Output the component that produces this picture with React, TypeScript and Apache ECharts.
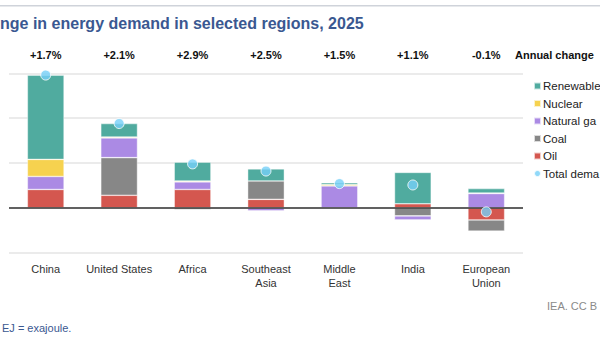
import React, { useEffect, useRef } from "react";
import * as echarts from "echarts";

const categories = ["China", "United States", "Africa", "Southeast\nAsia", "Middle\nEast", "India", "European\nUnion"];
const annualChange = ["+1.7%", "+2.1%", "+2.9%", "+2.5%", "+1.5%", "+1.1%", "-0.1%"];
const oil = [0.41, 0.28, 0.41, 0.19, 0, 0.09, -0.27];
const coal = [0, 0.84, -0.04, 0.41, 0, -0.18, -0.25];
const naturalGas = [0.29, 0.44, 0.17, -0.07, 0.49, -0.09, 0.32];
const nuclear = [0.38, 0.02, 0.02, 0, 0.03, -0.01, 0.01];
const renewables = [1.88, 0.3, 0.42, 0.27, 0.04, 0.7, 0.1];
const totalDemand = [2.96, 1.88, 0.98, 0.82, 0.54, 0.51, -0.09];
// legend texts as visible in the (cropped) reference
const legendShown: Record<string, string> = {
  Renewables: "Renewable",
  Nuclear: "Nuclear",
  "Natural gas": "Natural ga",
  Coal: "Coal",
  Oil: "Oil",
  "Total demand": "Total dema",
};

const FONT = "'Liberation Sans', Arial, sans-serif";

export default function App() {
  const ref = useRef<HTMLDivElement>(null);
  useEffect(() => {
    if (!ref.current) return;
    const chart = echarts.init(ref.current, undefined, { renderer: "svg" });
    const barSeries = (name: string, data: number[], color: string) => ({
      name,
      type: "bar",
      stack: "total",
      data,
      barWidth: "50%",
      itemStyle: { color, borderColor: "rgba(255,255,255,0.7)", borderWidth: 0.6 },
    });
    chart.setOption({
      animation: false,
      textStyle: { fontFamily: FONT },
      grid: { left: 9, right: 77, top: 73.3, bottom: 92.3, containLabel: false },
      legend: {
        orient: "vertical",
        left: 528,
        top: 75,
        itemWidth: 7,
        itemHeight: 7,
        itemGap: 5.5,
        icon: "rect",
        formatter: (n: string) => legendShown[n] ?? n,
        textStyle: { fontSize: 11.5, color: "#222", fontFamily: FONT, padding: [0, 0, 0, -3] },
        data: [
          { name: "Renewables", icon: "rect" },
          { name: "Nuclear", icon: "rect" },
          { name: "Natural gas", icon: "rect" },
          { name: "Coal", icon: "rect" },
          { name: "Oil", icon: "rect" },
          { name: "Total demand", icon: "circle" },
        ],
      },
      xAxis: [
        {
          type: "category",
          data: categories,
          axisLine: { show: false },
          axisTick: { show: false },
          axisLabel: { interval: 0, color: "#333", fontSize: 11, margin: 9, lineHeight: 14, fontFamily: FONT },
        },
        {
          type: "category",
          position: "top",
          data: annualChange,
          axisLine: { show: false },
          axisTick: { show: false },
          axisLabel: { interval: 0, color: "#111", fontSize: 11, fontWeight: "bold", margin: 13, fontFamily: FONT },
        },
      ],
      yAxis: {
        type: "value",
        min: -1,
        max: 3,
        interval: 1,
        axisLabel: { show: false },
        axisLine: { show: false },
        axisTick: { show: false },
        splitLine: { lineStyle: { color: "#e4e4e4", width: 1.5 } },
      },
      series: [
        {
          ...barSeries("Oil", oil, "#d4574f"),
          markLine: {
            silent: true,
            symbol: "none",
            label: { show: false },
            lineStyle: { color: "#333", width: 1.5, type: "solid" },
            data: [{ yAxis: 0 }],
          },
        },
        barSeries("Coal", coal, "#878787"),
        barSeries("Natural gas", naturalGas, "#ab8ae4"),
        barSeries("Nuclear", nuclear, "#f6d24f"),
        barSeries("Renewables", renewables, "#50ab9f"),
        {
          name: "Total demand",
          type: "scatter",
          data: totalDemand,
          symbol: "circle",
          symbolSize: 10,
          z: 10,
          itemStyle: { color: "#76cff7", borderColor: "#ffffff", borderWidth: 1 },
        },
      ],
      graphic: [
        { type: "rect", shape: { x: 0, y: 5, width: 600, height: 1.5 }, style: { fill: "#cfd3da" } },
        {
          type: "text",
          x: 0,
          y: 15,
          style: { text: "nge in energy demand in selected regions, 2025", fontSize: 16, fontWeight: "bold", fill: "#3a5891", fontFamily: FONT },
        },
        {
          type: "text",
          x: 515,
          y: 49,
          style: { text: "Annual change", fontSize: 11, fontWeight: "bold", fill: "#111", fontFamily: FONT },
        },
        {
          type: "text",
          x: 547,
          y: 300,
          style: { text: "IEA. CC B", fontSize: 11, fill: "#8a8a8a", fontFamily: FONT },
        },
        {
          type: "text",
          x: 2,
          y: 322,
          style: { text: "EJ = exajoule.", fontSize: 11, fill: "#3a5891", fontFamily: FONT },
        },
      ],
    });
    return () => chart.dispose();
  }, []);
  return <div ref={ref} style={{ width: 600, height: 345, position: "absolute", left: 0, top: 0 }} />;
}
